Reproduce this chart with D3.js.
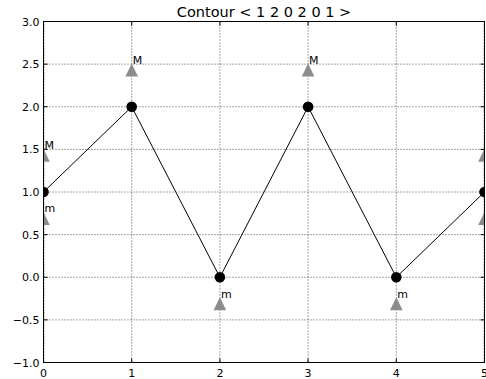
<!DOCTYPE html>
<html lang="en">
<head>
<meta charset="UTF-8">
<title>Contour</title>
<script src="https://d3js.org/d3.v7.min.js"></script>
<style>
  body { margin: 0; background: #fff; }
  svg { display: block; font-family: "DejaVu Sans", sans-serif; }
</style>
</head>
<body>
<svg width="486" height="379"></svg>
<script>
// chart data
const positions = [0, 1, 2, 3, 4, 5];
const contour = [1, 2, 0, 2, 0, 1];
const maxPos = [0, 1, 3, 5];
const maxVals = [1.43, 2.43, 2.43, 1.43];
const minPos = [0, 2, 4, 5];
const minVals = [0.69, -0.31, -0.31, 0.69];
const xTicks = [0, 1, 2, 3, 4, 5];
const yTicks = [-1.0, -0.5, 0.0, 0.5, 1.0, 1.5, 2.0, 2.5, 3.0];

const svg = d3.select("svg"),
      margin = {top: 21.5, right: 1.5, bottom: 16.5, left: 43.5},
      width = +svg.attr("width") - margin.left - margin.right,
      height = +svg.attr("height") - margin.top - margin.bottom;

const x = d3.scaleLinear().domain([0, 5]).range([margin.left, margin.left + width]);
const y = d3.scaleLinear().domain([-1, 3]).range([margin.top + height, margin.top]);

const fmt = d => d3.format(".1f")(d).replace("-", "\u2212");

svg.append("defs").append("clipPath").attr("id", "plot")
  .append("rect")
  .attr("x", margin.left).attr("y", margin.top)
  .attr("width", width).attr("height", height);

// grid
const grid = svg.append("g")
  .attr("stroke", "#000").attr("stroke-width", 0.7)
  .attr("stroke-dasharray", "1,2");
grid.selectAll(".gx").data(xTicks).enter().append("line")
  .attr("x1", d => x(d) + (d === 0 ? 0.5 : d === 5 ? -0.5 : 0))
  .attr("x2", d => x(d) + (d === 0 ? 0.5 : d === 5 ? -0.5 : 0))
  .attr("y1", margin.top).attr("y2", margin.top + height);
grid.selectAll(".gy").data(yTicks).enter().append("line")
  .attr("x1", margin.left).attr("x2", margin.left + width)
  .attr("y1", d => y(d)).attr("y2", d => y(d));

const plot = svg.append("g").attr("clip-path", "url(#plot)");

// contour line
const pts = positions.map((p, i) => [p, contour[i]]);
plot.append("path")
  .datum(pts)
  .attr("fill", "none").attr("stroke", "#000").attr("stroke-width", 1)
  .attr("d", d3.line().x(d => x(d[0])).y(d => y(d[1])));

plot.selectAll(".dot").data(pts).enter().append("circle")
  .attr("cx", d => x(d[0])).attr("cy", d => y(d[1])).attr("r", 5.3)
  .attr("fill", "#000");

// max / min markers
const maxPts = maxPos.map((p, i) => [p, maxVals[i]]);
const minPts = minPos.map((p, i) => [p, minVals[i]]);
const marks = maxPts.concat(minPts);
plot.selectAll(".tri").data(marks).enter().append("path")
  .attr("d", "M0,-6.5L6.3,6.5L-6.3,6.5Z")
  .attr("transform", d => `translate(${x(d[0])},${y(d[1])})`)
  .attr("fill", "#8c8c8c");

svg.selectAll(".lblM").data(maxPts).enter().append("text")
  .attr("x", d => x(d[0]) + 1).attr("y", d => y(d[1]) - 6.5)
  .attr("font-size", 11).text("M");
svg.selectAll(".lblm").data(minPts).enter().append("text")
  .attr("x", d => x(d[0]) + 1).attr("y", d => y(d[1]) - 6)
  .attr("font-size", 11).text("m");

// frame
svg.append("rect")
  .attr("x", margin.left).attr("y", margin.top)
  .attr("width", width).attr("height", height)
  .attr("fill", "none").attr("stroke", "#000").attr("stroke-width", 1);

// ticks inside, all four sides
const tk = svg.append("g").attr("stroke", "#000").attr("stroke-width", 1);
xTicks.forEach(t => {
  tk.append("line").attr("x1", x(t)).attr("x2", x(t))
    .attr("y1", margin.top + height).attr("y2", margin.top + height - 4);
  tk.append("line").attr("x1", x(t)).attr("x2", x(t))
    .attr("y1", margin.top).attr("y2", margin.top + 4);
});
yTicks.forEach(t => {
  tk.append("line").attr("x1", margin.left).attr("x2", margin.left + 4)
    .attr("y1", y(t)).attr("y2", y(t));
  tk.append("line").attr("x1", margin.left + width).attr("x2", margin.left + width - 4)
    .attr("y1", y(t)).attr("y2", y(t));
});

svg.selectAll(".xl").data(xTicks).enter().append("text")
  .attr("x", d => x(d)).attr("y", 376.5)
  .attr("text-anchor", "middle").attr("font-size", 11)
  .text(d => d);
svg.selectAll(".yl").data(yTicks).enter().append("text")
  .attr("x", 39.5).attr("y", d => y(d) + 4)
  .attr("text-anchor", "end").attr("font-size", 11)
  .text(fmt);

svg.append("text")
  .attr("x", margin.left + width / 2).attr("y", 16.5)
  .attr("text-anchor", "middle").attr("font-size", 14.5)
  .text("Contour < " + contour.join(" ") + " >");
</script>
</body>
</html>
